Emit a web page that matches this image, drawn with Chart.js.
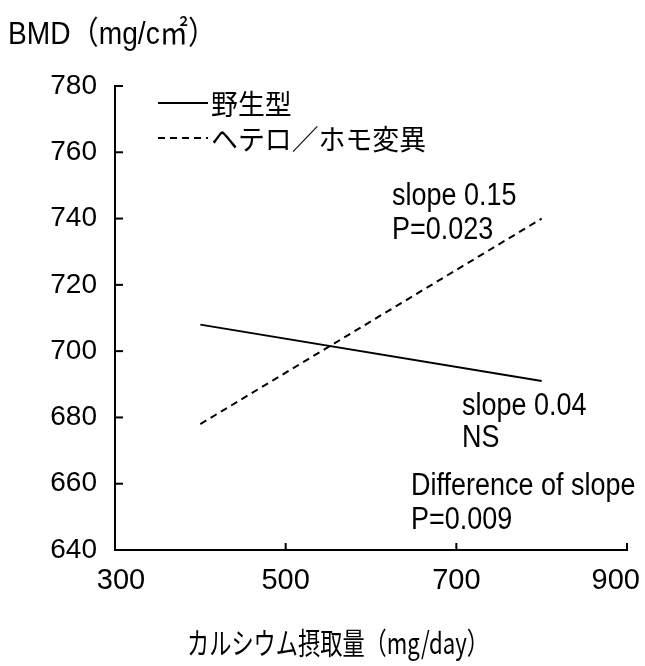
<!DOCTYPE html>
<html>
<head>
<meta charset="utf-8">
<script src="https://cdn.jsdelivr.net/npm/chart.js@4.4.1/dist/chart.umd.min.js"></script>
<style>
html,body{margin:0;padding:0;background:#fff;}
#wrap{width:645px;height:666px;position:relative;}
</style>
</head>
<body>
<div id="wrap"><canvas id="c" width="645" height="666"></canvas></div>
<script>
// ---- data ----
const xValues = [400, 800];
const wildType = [708, 691];
const heteroHomo = [678, 740];
const seriesNames = ['野生型', 'ヘテロ／ホモ変異'];
const yTicks = [640, 660, 680, 700, 720, 740, 760, 780];
const xTicks = [300, 500, 700, 900];
const yTitle = 'BMD（mg/c㎡）';
const xTitle = 'カルシウム摂取量（mg/day）';
const notes = [
  ['slope 0.15', 'P=0.023'],
  ['slope 0.04', 'NS'],
  ['Difference of slope', 'P=0.009']
];

const LATIN = "'Liberation Sans', Arial, 'Noto Sans CJK JP', sans-serif";
const NARROW = "'Liberation Sans Narrow', 'Arial Narrow', 'Liberation Sans', sans-serif";
const CJK = "'Noto Sans CJK JP', 'Liberation Sans', sans-serif";

const toPts = (ys) => xValues.map((x, i) => ({x: x, y: ys[i]}));

function squeezedText(ctx, text, x, y, sx) {
  ctx.save();
  ctx.translate(x, y);
  ctx.scale(sx, 1);
  ctx.fillText(text, 0, 0);
  ctx.restore();
}

const decor = {
  id: 'decor',
  afterDraw(chart) {
    const ctx = chart.ctx;
    const xs = chart.scales.x, ys = chart.scales.y;
    const ca = chart.chartArea;
    ctx.save();
    ctx.strokeStyle = '#000';
    ctx.fillStyle = '#000';
    ctx.lineWidth = 2;
    // inward ticks
    yTicks.forEach(v => {
      if (v === 640) return;
      const p = ys.getPixelForValue(v);
      ctx.beginPath(); ctx.moveTo(ca.left, p); ctx.lineTo(ca.left + 8, p); ctx.stroke();
    });
    xTicks.forEach(v => {
      if (v === 300) return;
      const p = xs.getPixelForValue(v);
      ctx.beginPath(); ctx.moveTo(p, ca.bottom); ctx.lineTo(p, ca.bottom - 7); ctx.stroke();
    });
    // x tick labels (kept inside the canvas)
    ctx.textBaseline = 'middle';
    ctx.textAlign = 'center';
    ctx.font = "29px " + NARROW;
    xTicks.forEach(v => {
      const label = String(v);
      const w = ctx.measureText(label).width;
      let cx = xs.getPixelForValue(v);
      if (cx + w / 2 > 640) cx = 640 - w / 2;
      if (v === 300) cx += 6;
      ctx.fillText(label, cx, 581);
    });
    // titles
    ctx.textAlign = 'left';
    ctx.font = "32px " + LATIN;
    squeezedText(ctx, yTitle, 8, 35, 0.88);
    ctx.font = "30px " + CJK;
    squeezedText(ctx, xTitle, 187, 643, 0.74);
    // legend
    const ds = chart.data.datasets;
    const legY = [103, 138];
    ds.forEach((d, i) => {
      ctx.beginPath();
      ctx.setLineDash(d.borderDash || []);
      ctx.lineWidth = 1.8;
      ctx.moveTo(158, legY[i]); ctx.lineTo(208, legY[i]); ctx.stroke();
      ctx.setLineDash([]);
      ctx.font = "28px " + CJK;
      squeezedText(ctx, d.label, 211, legY[i] + 1, 0.96);
    });
    // notes
    ctx.textBaseline = 'alphabetic';
    ctx.font = "31px " + LATIN;
    const notePos = [[392, 205, 239], [462, 415, 447], [411, 495, 529]];
    notes.forEach((n, i) => {
      squeezedText(ctx, n[0], notePos[i][0], notePos[i][1], 0.87);
      squeezedText(ctx, n[1], notePos[i][0], notePos[i][2], 0.87);
    });
    ctx.restore();
  }
};

new Chart(document.getElementById('c'), {
  type: 'line',
  data: {
    datasets: [
      {label: seriesNames[0], data: toPts(wildType), borderColor: '#000', borderWidth: 2, pointRadius: 0, fill: false, tension: 0},
      {label: seriesNames[1], data: toPts(heteroHomo), borderColor: '#000', borderWidth: 2, borderDash: [7, 5], pointRadius: 0, fill: false, tension: 0}
    ]
  },
  options: {
    responsive: false,
    animation: false,
    devicePixelRatio: 1,
    layout: {padding: {left: 8, right: 18, top: 86, bottom: 0}},
    plugins: {legend: {display: false}, tooltip: {enabled: false}, title: {display: false}},
    scales: {
      x: {
        type: 'linear', min: 300, max: 900,
        afterBuildTicks(s) { s.ticks = xTicks.map(v => ({value: v})); },
        afterFit(s) { s.height = 116; s.paddingLeft = 0; s.paddingRight = 0; },
        grid: {display: false, drawTicks: false},
        border: {display: true, color: '#000', width: 2},
        ticks: {display: false}
      },
      y: {
        type: 'linear', min: 640, max: 780,
        afterBuildTicks(s) { s.ticks = yTicks.map(v => ({value: v})); },
        afterFit(s) { s.width = 107; },
        grid: {display: false, drawTicks: false},
        border: {display: true, color: '#000', width: 2},
        ticks: {color: '#000', padding: 18, font: {size: 28, family: NARROW}}
      }
    }
  },
  plugins: [decor]
});
</script>
</body>
</html>
